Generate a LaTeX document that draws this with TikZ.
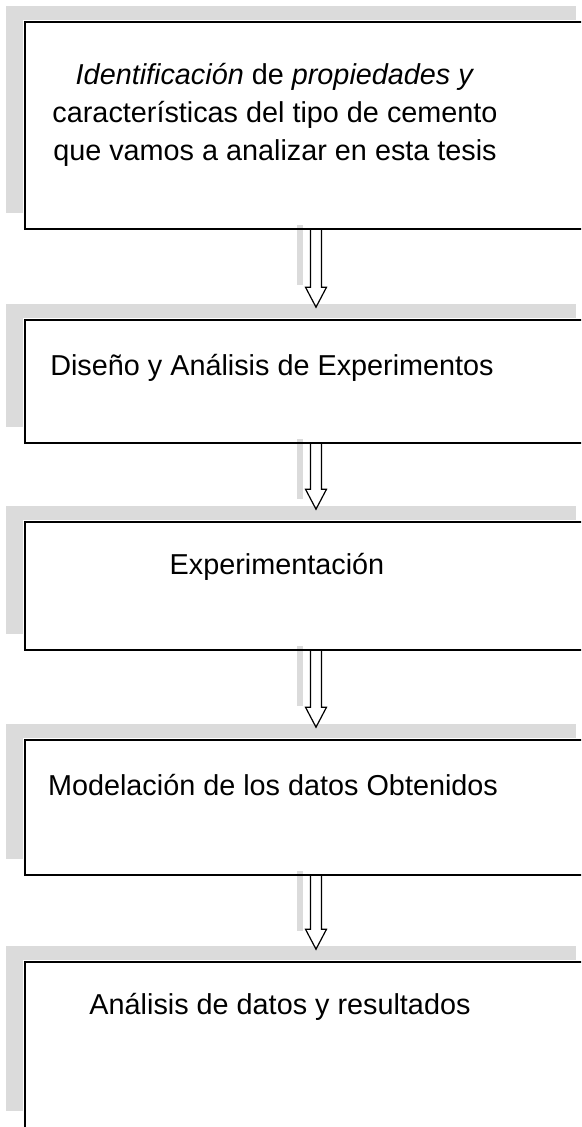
\documentclass[tikz,border=0pt]{standalone}
\usepackage{fontspec}
\setmainfont{Liberation Sans}
\usetikzlibrary{calc}

\tikzset{
	box/.style={draw, line width=1.6pt, minimum width=582pt, inner sep=0pt},
	txt/.style={align=center, inner sep=0pt, font=\fontsize{28.8}{38}\selectfont},
	scan/.style={fill=black!14, draw=none},
	hollow/.style={line width=1.2pt, line join=miter, to path={
		($(\tikztostart)+(-5.5,0)$) -- ($(\tikztotarget)+(-5.5,32)$) -- ($(\tikztotarget)+(-10.5,32)$)
		-- ($(\tikztotarget)+(0,12)$)
		-- ($(\tikztotarget)+(10.5,32)$) -- ($(\tikztotarget)+(5.5,32)$) -- ($(\tikztostart)+(5.5,0)$)}},
}

\begin{document}
\begin{tikzpicture}[x=1pt, y=1pt]

	\clip (0,0) rectangle (581,-1127);

	% scanner shading
	\foreach \t/\b in {22/229, 320/443, 522/650, 740/875, 962/1127}{
		\fill[scan] (6,{-\t+16}) rectangle (576,{-\t+2});
		\fill[scan] (6,{-\t+2}) rectangle (23,{-\b+16});
	}
	\foreach \b in {229, 443, 650, 875}{
		\fill[scan] (297,{-\b+4}) rectangle (303,{-\b-56});
	}

	% boxes
	\node[box, minimum height=207pt] (ident) at (316,-125.5) {};
	\node[box, minimum height=123pt] (diseno) at (316,-381.5) {};
	\node[box, minimum height=128pt] (exper) at (316,-586) {};
	\node[box, minimum height=135pt] (model) at (316,-807.5) {};
	\node[box, minimum height=200pt] (analisis) at (316,-1062) {};

	% texts
	\node[txt] (identtxt) at (275,-115) {\textit{Identificación} de \textit{propiedades y}\\características del tipo de cemento\\que vamos a analizar en esta tesis};
	\node[txt] (disenotxt) at (272,-368) {Diseño y Análisis de Experimentos};
	\node[txt] (expertxt) at (277,-567) {Experimentación};
	\node[txt] (modeltxt) at (273,-785) {Modelación de los datos Obtenidos};
	\node[txt] (analisistxt) at (280,-1007) {Análisis de datos y resultados};

	% arrows
	\draw[hollow] (ident.south) to (diseno.north);
	\draw[hollow] (diseno.south) to (exper.north);
	\draw[hollow] (exper.south) to (model.north);
	\draw[hollow] (model.south) to (analisis.north);

\end{tikzpicture}
\end{document}
